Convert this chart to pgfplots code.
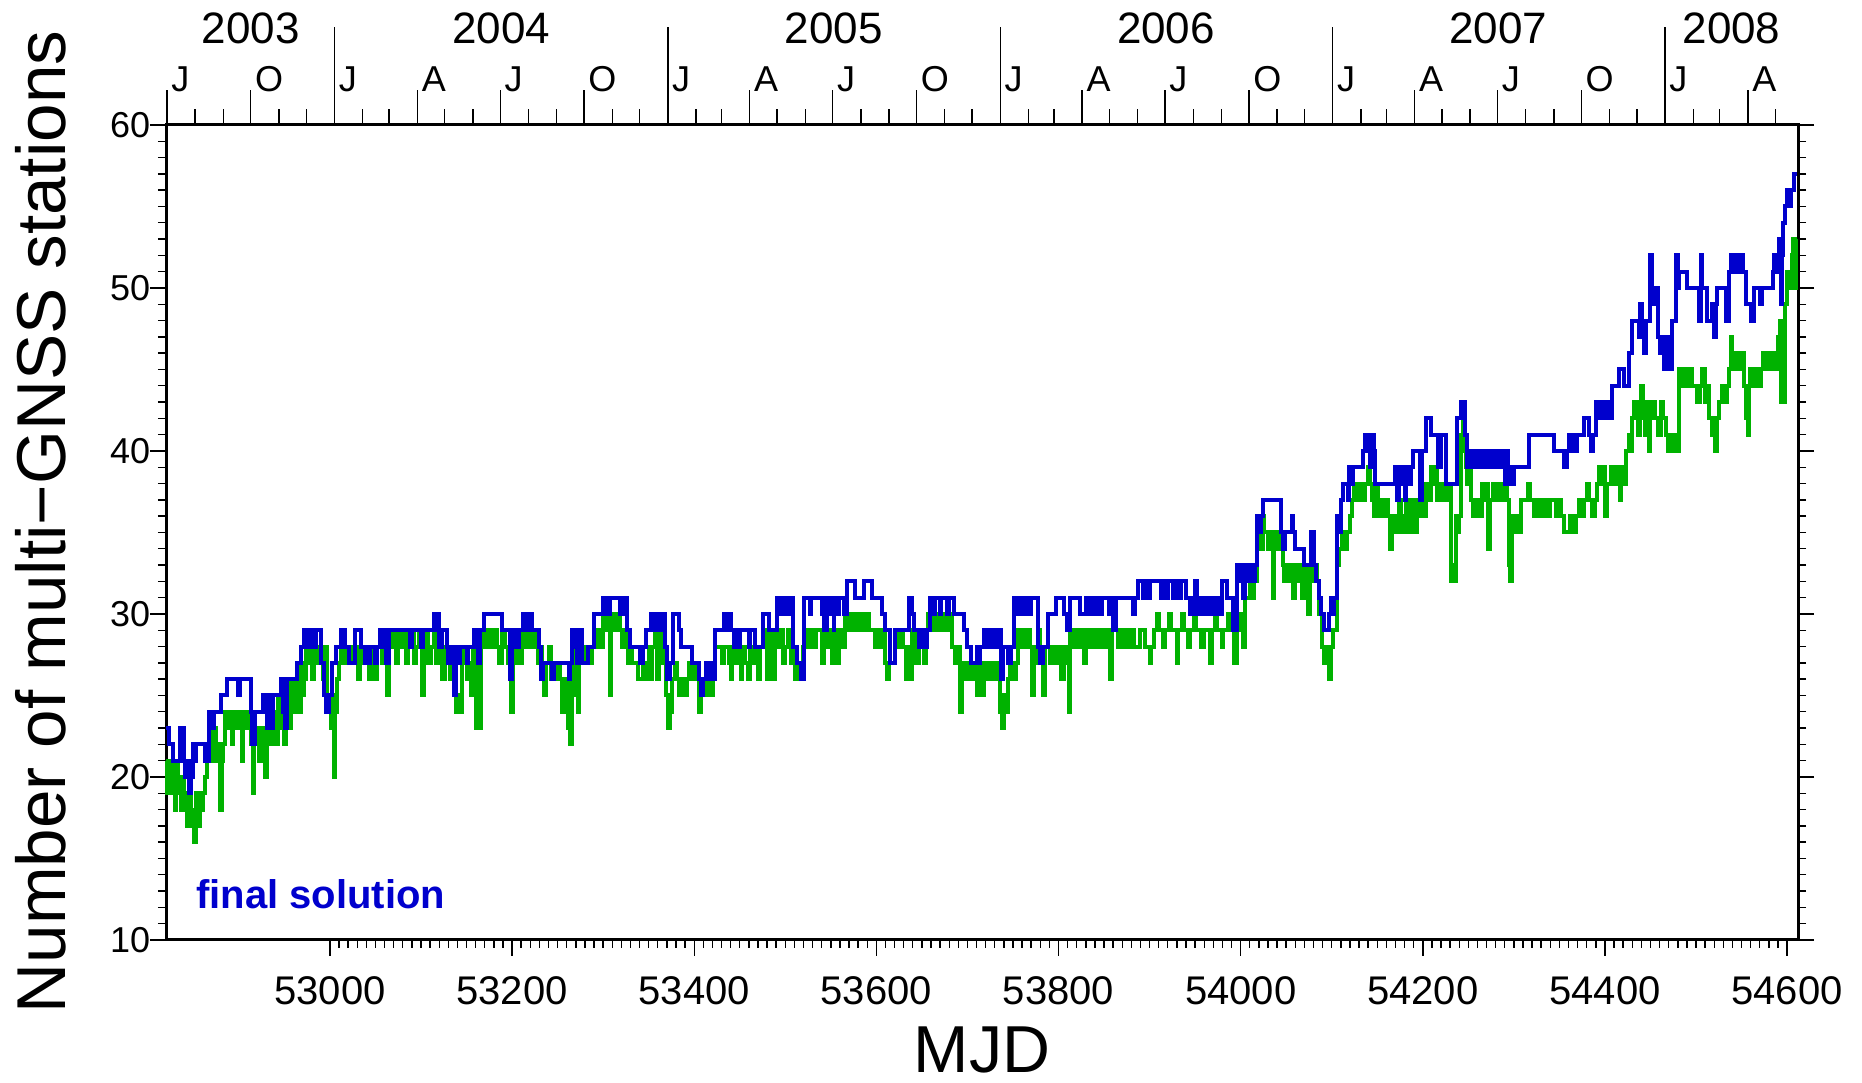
\documentclass[border=0pt]{standalone}
\usepackage{fontspec}
\setmainfont{Liberation Sans}
\usepackage{pgfplots}
\pgfplotsset{compat=1.18}
\definecolor{gblue}{RGB}{0,0,205}
\definecolor{ggreen}{RGB}{0,178,0}
\begin{document}
\begin{tikzpicture}
\begin{axis}[name=ax,
 scale only axis, width=408pt, height=203.75pt,
 xmin=52820, xmax=54612, ymin=10, ymax=60,
 xtick={53000,53200,...,54600}, minor x tick num=19,
 ytick={10,20,...,60}, minor y tick num=9,
 xtick pos=left, ytick pos=both, yticklabel pos=left,
 tick align=outside,
 major tick length=4pt, minor tick length=2pt,
 every tick/.style={black, line width=0.35pt},
 axis line style={line width=0.75pt},
 scaled x ticks=false,
 /pgf/number format/assume math mode=true,
 /pgf/number format/set thousands separator={},
 xticklabel style={font=\fontsize{10}{12}\selectfont, yshift=-1.6pt},
 yticklabel style={font=\fontsize{9}{11}\selectfont, xshift=3.6pt},
 clip=false,
]
\addplot[const plot, ggreen, line width=1pt] coordinates {
(52820,21)(52821,19)(52823,20)(52824,19)(52826,21)(52827,19)(52829,20)(52830,18)(52831,21)(52833,19)(52835,20)(52836,18)(52838,20)(52840,19)(52841,18)(52843,17)(52845,19)(52847,18)(52849,17)(52851,16)(52853,19)(52855,17)(52857,19)(52859,18)(52861,19)(52863,20)(52865,21)(52867,23)(52869,21)(52871,22)(52873,23)(52875,21)(52877,22)(52879,18)(52881,21)(52883,22)(52885,24)(52888,23)(52890,24)(52892,22)(52894,24)(52897,23)(52900,24)(52903,21)(52905,23)(52908,24)(52910,23)(52913,22)(52915,19)(52917,22)(52919,23)(52922,21)(52924,23)(52926,22)(52929,20)(52931,23)(52934,22)(52936,24)(52941,22)(52943,25)(52946,23)(52948,24)(52950,22)(52952,25)(52955,23)(52957,26)(52959,24)(52962,25)(52964,26)(52966,24)(52968,27)(52970,25)(52972,26)(52974,28)(52976,27)(52978,28)(52980,26)(52982,28)(52984,27)(52986,28)(52989,27)(52992,26)(52994,28)(52997,24)(52999,25)(53001,23)(53003,25)(53005,20)(53006,24)(53008,26)(53010,27)(53012,28)(53015,27)(53018,28)(53020,27)(53022,28)(53025,27)(53028,28)(53031,26)(53033,28)(53037,27)(53040,28)(53043,26)(53045,28)(53048,27)(53050,26)(53052,28)(53055,29)(53057,27)(53060,28)(53063,25)(53065,28)(53068,29)(53073,27)(53075,29)(53078,28)(53081,29)(53083,27)(53086,28)(53089,29)(53092,27)(53095,28)(53098,29)(53101,25)(53103,28)(53106,29)(53108,27)(53111,28)(53114,29)(53117,27)(53120,28)(53123,26)(53126,28)(53129,27)(53132,26)(53134,28)(53136,25)(53138,24)(53141,25)(53143,24)(53145,27)(53147,28)(53150,26)(53152,27)(53155,25)(53157,28)(53158,27)(53160,23)(53161,28)(53163,27)(53165,23)(53166,28)(53168,29)(53171,28)(53174,29)(53177,28)(53180,29)(53183,28)(53186,27)(53189,29)(53192,28)(53195,27)(53197,28)(53199,24)(53201,28)(53204,27)(53206,28)(53209,27)(53211,29)(53214,28)(53217,29)(53220,28)(53223,29)(53226,28)(53229,27)(53231,28)(53233,27)(53235,25)(53237,27)(53240,28)(53243,26)(53246,27)(53249,26)(53251,27)
(53253,26)(53255,24)(53257,26)(53259,25)(53261,23)(53262,26)(53264,22)(53266,25)(53268,27)(53270,28)(53272,24)(53273,27)(53276,28)(53279,27)(53282,28)(53285,27)(53288,28)(53290,29)(53293,28)(53296,29)(53298,28)(53300,30)(53303,29)(53306,30)(53308,25)(53309,29)(53311,30)(53314,29)(53317,30)(53319,29)(53321,28)(53324,29)(53327,27)(53330,28)(53332,27)(53338,26)(53344,27)(53347,26)(53350,28)(53352,26)(53354,28)(53357,29)(53359,26)(53361,28)(53364,29)(53366,27)(53369,25)(53371,23)(53373,25)(53375,24)(53376,26)(53379,27)(53381,26)(53383,25)(53386,26)(53389,25)(53392,26)(53394,27)(53397,26)(53400,27)(53403,26)(53405,24)(53407,25)(53410,26)(53412,25)(53415,26)(53418,25)(53421,26)(53423,28)(53430,27)(53433,28)(53438,27)(53440,26)(53442,28)(53445,27)(53448,28)(53451,26)(53453,28)(53456,27)(53459,26)(53461,28)(53464,27)(53467,28)(53470,26)(53472,28)(53475,29)(53478,28)(53480,26)(53482,29)(53485,28)(53487,26)(53489,29)(53492,28)(53495,29)(53498,27)(53500,28)(53503,29)(53506,27)(53509,28)(53511,26)(53514,27)(53516,26)(53519,28)(53522,29)(53525,28)(53528,29)(53531,28)(53534,29)(53540,27)(53542,29)(53545,28)(53548,29)(53551,27)(53553,29)(53556,27)(53559,29)(53562,28)(53566,30)(53569,29)(53571,30)(53574,29)(53577,30)(53580,29)(53583,30)(53586,29)(53589,30)(53592,29)(53598,28)(53601,29)(53604,28)(53607,29)(53610,27)(53612,26)(53614,27)(53620,29)(53623,28)(53626,29)(53629,28)(53632,26)(53635,28)(53637,26)(53639,29)(53642,28)(53644,27)(53647,29)(53650,28)(53652,27)(53654,29)(53657,30)(53660,29)(53663,30)(53666,29)(53669,30)(53672,29)(53675,30)(53678,29)(53681,30)(53683,28)(53686,27)(53689,28)(53692,24)(53694,27)(53696,26)(53699,27)(53702,26)(53705,27)
(53707,26)(53710,25)(53712,27)(53714,26)(53716,25)(53718,27)(53721,26)(53724,27)(53727,26)(53730,27)(53733,26)(53736,24)(53738,23)(53740,25)(53742,24)(53744,26)(53747,27)(53750,26)(53753,27)(53755,29)(53758,28)(53761,29)(53764,28)(53767,29)(53769,28)(53771,25)(53773,28)(53775,27)(53777,29)(53780,27)(53783,25)(53785,28)(53791,27)(53794,28)(53797,27)(53800,28)(53803,26)(53806,28)(53809,27)(53812,24)(53813,29)(53816,28)(53819,29)(53822,28)(53825,29)(53828,27)(53830,29)(53833,28)(53836,29)(53839,28)(53842,29)(53845,28)(53848,29)(53851,28)(53854,29)(53857,26)(53859,29)(53862,29)(53865,28)(53868,29)(53871,28)(53874,29)(53877,28)(53880,29)(53883,28)(53890,29)(53895,28)(53900,27)(53902,28)(53905,29)(53908,30)(53910,29)(53915,28)(53917,29)(53921,30)(53923,29)(53930,27)(53931,29)(53936,30)(53938,29)(53942,28)(53944,29)(53949,30)(53951,29)(53956,28)(53960,29)(53966,27)(53968,29)(53972,30)(53974,29)(53979,28)(53981,29)(53986,30)(53988,29)(53993,27)(53996,30)(53998,29)(54000,30)(54003,28)(54005,31)(54010,32)(54012,31)(54015,32)(54018,34)(54020,35)(54022,34)(54024,36)(54026,35)(54030,34)(54032,35)(54036,31)(54037,35)(54040,34)(54042,35)(54046,33)(54048,32)(54050,33)(54052,32)(54055,33)(54058,31)(54060,33)(54063,32)(54065,33)(54067,31)(54070,33)(54072,32)(54074,30)(54076,33)(54079,32)(54081,33)(54084,32)(54086,30)(54089,28)(54091,27)(54093,28)(54095,27)(54097,26)(54099,28)(54101,29)(54106,33)(54108,34)(54111,35)(54114,34)(54117,35)(54120,36)(54122,37)(54125,38)(54128,37)(54131,38)(54134,37)(54137,38)(54140,39)(54142,38)(54144,37)(54146,36)(54149,38)(54151,36)(54154,37)(54157,36)(54160,37)
(54162,36)(54164,34)(54166,36)(54168,35)(54170,36)(54172,35)(54174,37)(54176,35)(54178,36)(54180,35)(54182,37)(54184,36)(54186,35)(54188,37)(54190,36)(54192,35)(54194,37)(54196,36)(54198,37)(54201,36)(54204,38)(54207,37)(54209,39)(54212,38)(54214,39)(54216,37)(54218,38)(54221,37)(54224,38)(54227,37)(54229,38)(54231,32)(54233,33)(54235,32)(54236,36)(54238,35)(54240,36)(54242,41)(54244,42)(54246,40)(54247,39)(54249,38)(54251,39)(54253,37)(54255,36)(54257,37)(54259,36)(54261,37)(54263,36)(54265,38)(54268,37)(54270,38)(54272,34)(54274,37)(54277,38)(54280,37)(54283,38)(54286,37)(54289,38)(54292,37)(54295,33)(54296,32)(54298,36)(54302,35)(54304,36)(54306,35)(54308,37)(54315,38)(54318,37)(54322,36)(54325,37)(54330,36)(54333,37)(54338,36)(54340,37)(54346,36)(54349,37)(54352,36)(54355,35)(54362,36)(54365,35)(54368,36)(54371,37)(54374,36)(54377,37)(54380,38)(54383,37)(54386,36)(54389,37)(54391,38)(54393,39)(54396,38)(54398,39)(54400,36)(54402,38)(54407,39)(54410,38)(54413,39)(54416,37)(54418,39)(54421,38)(54423,40)(54426,41)(54428,40)(54430,42)(54432,43)(54434,42)(54436,41)(54438,43)(54440,44)(54442,42)(54444,41)(54446,43)(54448,40)(54450,42)(54452,43)(54455,42)(54458,41)(54461,43)(54464,42)(54467,41)(54469,40)(54472,41)(54475,40)(54478,41)(54480,40)(54481,45)(54484,44)(54487,45)(54490,44)(54493,45)(54496,44)(54501,43)(54504,44)(54507,45)(54510,43)(54512,44)(54514,42)(54517,41)(54519,42)(54521,40)(54523,42)(54525,43)(54528,44)(54531,43)(54534,44)(54536,45)(54538,47)(54540,46)(54542,45)(54545,46)(54548,45)(54551,46)(54553,44)(54555,42)(54557,41)(54558,44)(54559,45)(54562,44)(54565,45)(54568,44)(54571,45)(54573,46)(54576,45)(54579,46)(54582,45)(54585,46)(54588,45)(54590,47)(54592,48)(54593,43)(54595,44)(54597,43)(54598,49)(54600,51)(54603,50)(54605,52)(54606,53)(54608,50)(54610,53)(54611,53)
};
\addplot[const plot, gblue, line width=1pt] coordinates {
(52820,23)(52823,22)(52828,21)(52835,23)(52840,21)(52841,20)(52842,21)(52843,20)(52845,19)(52847,21)(52849,20)(52850,22)(52852,21)(52853,22)(52863,21)(52867,24)(52868,23)(52870,24)(52871,23)(52873,24)(52880,25)(52887,26)(52899,25)(52901,26)(52913,24)(52914,22)(52918,24)(52927,25)(52931,23)(52933,25)(52935,23)(52937,25)(52946,26)(52948,24)(52950,26)(52951,23)(52953,26)(52964,27)(52968,28)(52971,29)(52973,28)(52974,29)(52976,28)(52977,29)(52979,28)(52981,29)(52983,28)(52985,29)(52990,27)(52994,25)(52996,24)(52999,25)(53002,27)(53007,28)(53012,29)(53017,28)(53021,27)(53028,29)(53034,28)(53038,27)(53040,28)(53042,27)(53044,28)(53050,27)(53052,28)(53055,29)(53058,28)(53059,29)(53062,27)(53065,29)(53088,28)(53090,29)(53100,28)(53102,29)(53114,30)(53116,29)(53117,30)(53120,28)(53123,29)(53128,28)(53130,27)(53132,28)(53134,27)(53136,25)(53138,28)(53140,27)(53143,28)(53150,27)(53152,28)(53158,29)(53163,27)(53165,29)(53169,30)(53189,29)(53198,26)(53200,28)(53202,29)(53205,28)(53208,29)(53212,30)(53214,29)(53215,30)(53217,29)(53219,30)(53222,29)(53230,28)(53232,26)(53234,27)(53244,26)(53246,27)
(53262,26)(53264,27)(53266,29)(53268,28)(53269,29)(53271,27)(53272,29)(53274,28)(53276,29)(53277,27)(53283,28)(53290,30)(53300,31)(53302,30)(53304,31)(53306,30)(53307,31)(53318,30)(53320,31)(53322,30)(53323,31)(53326,29)(53330,28)(53340,27)(53344,28)(53347,29)(53352,30)(53355,29)(53356,30)(53358,29)(53360,30)(53364,29)(53365,30)(53368,28)(53370,26)(53373,27)(53377,30)(53383,29)(53385,28)(53398,27)(53405,26)(53407,25)(53410,26)(53413,27)(53415,26)(53417,27)(53420,26)(53423,29)(53433,30)(53435,29)(53437,30)(53440,29)(53444,28)(53446,29)(53448,28)(53450,29)(53460,28)(53461,29)(53467,28)(53475,30)(53482,29)(53491,31)(53494,30)(53496,31)(53499,30)(53501,31)(53504,30)(53506,31)(53509,28)(53513,27)(53517,26)(53520,31)(53527,30)(53528,31)(53540,30)(53541,31)(53543,29)(53546,31)(53549,30)(53550,31)(53553,29)(53554,31)(53558,30)(53559,31)(53564,30)(53568,32)(53577,31)(53586,32)(53595,31)(53606,30)(53610,29)(53615,27)(53620,29)(53636,31)(53639,30)(53641,29)(53647,28)(53650,29)(53652,28)(53656,29)(53659,31)(53662,30)(53664,31)(53670,30)(53671,31)(53678,30)(53680,31)(53685,30)(53696,29)(53699,28)(53704,27)
(53710,28)(53712,27)(53714,28)(53718,29)(53721,28)(53723,29)(53726,28)(53728,29)(53731,28)(53735,29)(53737,26)(53739,28)(53745,27)(53748,28)(53751,31)(53754,30)(53756,31)(53758,30)(53760,31)(53762,30)(53764,31)(53768,30)(53770,31)(53778,28)(53780,27)(53783,28)(53788,30)(53797,31)(53806,30)(53809,29)(53813,31)(53824,30)(53830,31)(53834,30)(53836,31)(53840,30)(53842,31)(53846,30)(53848,31)(53855,30)(53857,31)(53860,29)(53863,31)(53882,30)(53884,31)(53887,32)(53893,31)(53895,32)(53897,31)(53900,32)(53912,31)(53914,32)(53918,31)(53920,32)(53926,31)(53928,32)(53932,31)(53934,32)(53940,31)(53944,30)(53946,31)(53948,30)(53950,32)(53952,31)(53954,30)(53957,31)(53960,30)(53962,31)(53965,30)(53967,31)(53970,30)(53972,31)(53975,30)(53980,32)(53985,31)(53992,29)(53996,33)(53999,32)(54001,33)(54003,31)(54005,33)(54008,32)(54010,33)(54014,32)(54016,33)(54018,36)(54020,35)(54022,36)(54024,37)(54044,35)(54046,34)(54049,35)(54056,36)(54058,35)(54060,34)(54070,33)(54077,35)(54080,33)(54083,32)(54086,31)(54088,30)(54091,29)(54097,30)(54099,31)(54101,30)(54103,31)(54106,36)(54108,35)(54110,37)(54112,38)(54118,37)(54119,39)(54121,38)(54123,39)(54134,40)(54136,41)(54138,40)(54140,41)(54142,39)(54144,41)(54146,40)(54148,38)
(54170,39)(54172,37)(54174,39)(54176,38)(54178,39)(54180,37)(54182,39)(54185,38)(54187,39)(54189,40)(54197,37)(54199,40)(54203,42)(54209,41)(54217,39)(54220,41)(54226,38)(54238,42)(54242,43)(54246,41)(54248,39)(54250,40)(54254,39)(54256,40)(54260,39)(54262,40)(54266,39)(54268,40)(54272,39)(54274,40)(54278,39)(54280,40)(54284,39)(54286,40)(54290,38)(54292,40)(54294,38)(54296,39)(54298,38)(54300,39)(54317,41)(54344,40)(54355,39)(54358,40)(54360,41)(54362,40)(54364,41)(54367,40)(54369,41)(54377,42)(54382,41)(54385,40)(54387,41)(54390,43)(54392,42)(54394,43)(54396,42)(54398,43)(54400,42)(54402,43)(54404,42)(54408,44)(54415,45)(54421,44)(54426,46)(54430,48)(54437,47)(54439,49)(54441,47)(54443,46)(54445,48)(54450,52)(54452,50)(54454,49)(54456,50)(54458,47)(54460,46)(54463,47)(54465,45)(54467,47)(54469,45)(54474,48)(54478,52)(54480,50)(54481,51)(54490,50)(54503,48)(54505,52)(54507,50)(54512,48)(54518,49)(54520,47)(54522,49)(54523,50)(54533,48)(54536,51)(54538,52)(54540,51)(54542,52)(54544,51)(54546,52)(54548,51)(54550,52)(54552,51)(54555,49)(54560,48)(54564,50)(54570,49)(54572,50)(54584,51)(54586,52)(54588,51)(54591,53)(54593,49)(54594,52)(54596,54)(54598,55)(54600,56)(54602,55)(54604,56)(54608,57)(54611,57)
};
% top calendar axis
\pgfplotsinvokeforeach{52852,52883,52944,52974,53036,53065,53126,53157,53218,53249,53310,53340,53402,53430,53491,53522,53583,53614,53675,53705,53767,53795,53856,53887,53948,53979,54040,54070,54132,54160,54221,54252,54313,54344,54405,54435,54497,54526,54587}{
  \draw[line width=0.35pt] (axis cs:#1,60) -- ([yshift=4pt]axis cs:#1,60);
}
\pgfplotsinvokeforeach{52821,52913,53096,53187,53279,53461,53552,53644,53826,53917,54009,54191,54282,54374,54557}{
  \draw[line width=0.35pt] (axis cs:#1,60) -- ([yshift=8.75pt]axis cs:#1,60);
}
\pgfplotsinvokeforeach{53005,53371,53736,54101,54466}{
  \draw[line width=0.35pt] (axis cs:#1,60) -- ([yshift=24.5pt]axis cs:#1,60);
}
\begin{scope}[every node/.style={anchor=base west, inner sep=0pt, font=\fontsize{9}{11}\selectfont}]
\node at ([xshift=0.9pt,yshift=8.25pt]axis cs:52821,60) {J};
\node at ([xshift=0.9pt,yshift=8.25pt]axis cs:52913,60) {O};
\node at ([xshift=0.9pt,yshift=8.25pt]axis cs:53005,60) {J};
\node at ([xshift=0.9pt,yshift=8.25pt]axis cs:53096,60) {A};
\node at ([xshift=0.9pt,yshift=8.25pt]axis cs:53187,60) {J};
\node at ([xshift=0.9pt,yshift=8.25pt]axis cs:53279,60) {O};
\node at ([xshift=0.9pt,yshift=8.25pt]axis cs:53371,60) {J};
\node at ([xshift=0.9pt,yshift=8.25pt]axis cs:53461,60) {A};
\node at ([xshift=0.9pt,yshift=8.25pt]axis cs:53552,60) {J};
\node at ([xshift=0.9pt,yshift=8.25pt]axis cs:53644,60) {O};
\node at ([xshift=0.9pt,yshift=8.25pt]axis cs:53736,60) {J};
\node at ([xshift=0.9pt,yshift=8.25pt]axis cs:53826,60) {A};
\node at ([xshift=0.9pt,yshift=8.25pt]axis cs:53917,60) {J};
\node at ([xshift=0.9pt,yshift=8.25pt]axis cs:54009,60) {O};
\node at ([xshift=0.9pt,yshift=8.25pt]axis cs:54101,60) {J};
\node at ([xshift=0.9pt,yshift=8.25pt]axis cs:54191,60) {A};
\node at ([xshift=0.9pt,yshift=8.25pt]axis cs:54282,60) {J};
\node at ([xshift=0.9pt,yshift=8.25pt]axis cs:54374,60) {O};
\node at ([xshift=0.9pt,yshift=8.25pt]axis cs:54466,60) {J};
\node at ([xshift=0.9pt,yshift=8.25pt]axis cs:54557,60) {A};
\end{scope}
\begin{scope}[every node/.style={anchor=base, inner sep=0pt, font=\fontsize{11}{13}\selectfont}]
\node at ([yshift=20.25pt]axis cs:52913,60) {2003};
\node at ([yshift=20.25pt]axis cs:53188,60) {2004};
\node at ([yshift=20.25pt]axis cs:53553,60) {2005};
\node at ([yshift=20.25pt]axis cs:53918,60) {2006};
\node at ([yshift=20.25pt]axis cs:54283,60) {2007};
\node at ([yshift=20.25pt]axis cs:54539,60) {2008};
\end{scope}
\node[anchor=base west, inner sep=0pt, text=gblue, font=\bfseries\fontsize{10}{12}\selectfont] at ([xshift=7.4pt,yshift=7.75pt]rel axis cs:0,0) {final solution};
\end{axis}
\node[rotate=90, anchor=base, inner sep=0pt, font=\fontsize{17.3}{20}\selectfont] at ([xshift=-25pt,yshift=2.6pt]ax.west) {Number of multi−GNSS stations};
\node[anchor=base, inner sep=0pt, font=\fontsize{16.6}{20}\selectfont] at ([yshift=-33.2pt]ax.south) {MJD};
\pgfresetboundingbox
\path[use as bounding box] ([xshift=-41.5pt,yshift=-35.75pt]ax.south west) rectangle ([xshift=16pt,yshift=31.25pt]ax.north east);
\end{tikzpicture}
\end{document}
